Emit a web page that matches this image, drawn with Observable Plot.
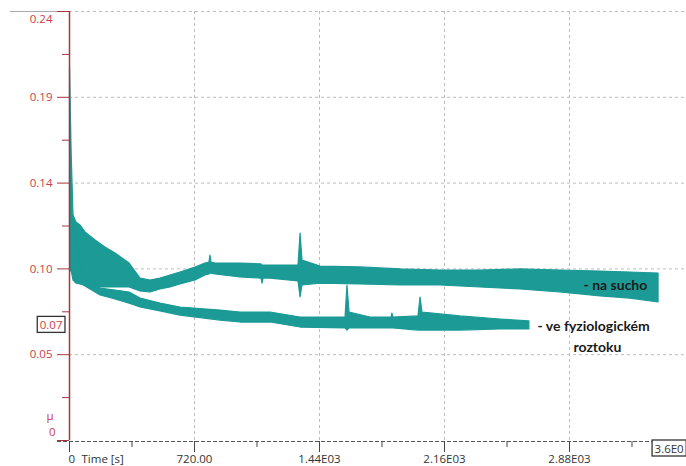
<!DOCTYPE html>
<html><head><meta charset="utf-8">
<script src="https://cdn.jsdelivr.net/npm/d3@7"></script>
<script src="https://cdn.jsdelivr.net/npm/@observablehq/plot@0.6"></script>
<style>body{margin:0;background:#fff;} svg{display:block}</style>
</head><body><div id="chart"></div>
<script>
// Series 1: "na sucho" (dry) — band of the noisy friction trace
const timeDry = [3, 12, 23, 40, 63, 92, 150, 207, 265, 346, 409, 467, 524, 582, 639, 726, 783, 806, 812, 818, 841, 985, 1106, 1112, 1118, 1158, 1319, 1331, 1342, 1446, 1676, 1907, 2137, 2367, 2598, 2828, 3059, 3231, 3393];
const dryHigh = [0.2087, 0.1622, 0.1259, 0.1220, 0.1203, 0.1164, 0.1119, 0.1080, 0.1046, 0.0990, 0.0906, 0.0895, 0.0906, 0.0923, 0.0940, 0.0968, 0.0990, 0.0996, 0.1035, 0.0996, 0.0990, 0.0990, 0.0985, 0.0979, 0.0979, 0.0979, 0.0979, 0.1158, 0.1007, 0.0973, 0.0968, 0.0957, 0.0951, 0.0951, 0.0957, 0.0951, 0.0945, 0.0940, 0.0934];
const dryLow = [0.1175, 0.0951, 0.0895, 0.0878, 0.0873, 0.0867, 0.0856, 0.0856, 0.0856, 0.0856, 0.0834, 0.0828, 0.0845, 0.0856, 0.0873, 0.0895, 0.0923, 0.0929, 0.0934, 0.0934, 0.0929, 0.0912, 0.0906, 0.0878, 0.0906, 0.0906, 0.0890, 0.0800, 0.0867, 0.0878, 0.0873, 0.0867, 0.0867, 0.0856, 0.0845, 0.0828, 0.0806, 0.0794, 0.0772];

// Series 2: "ve fyziologickém roztoku" (in saline)
const timeWet = [6, 63, 179, 265, 346, 409, 524, 639, 870, 985, 1158, 1331, 1590, 1601, 1613, 1734, 1855, 1860, 1866, 2010, 2022, 2033, 2252, 2482, 2649];
const wetHigh = [0.1343, 0.0951, 0.0850, 0.0839, 0.0828, 0.0794, 0.0766, 0.0744, 0.0727, 0.0716, 0.0716, 0.0688, 0.0688, 0.0867, 0.0716, 0.0688, 0.0688, 0.0710, 0.0688, 0.0694, 0.0800, 0.0716, 0.0694, 0.0677, 0.0666];
const wetLow = [0.0951, 0.0878, 0.0811, 0.0789, 0.0766, 0.0744, 0.0722, 0.0699, 0.0671, 0.0660, 0.0660, 0.0632, 0.0627, 0.0615, 0.0627, 0.0627, 0.0627, 0.0627, 0.0627, 0.0615, 0.0615, 0.0615, 0.0615, 0.0621, 0.0621];

// Axes
const yTickValues = [0, 0.048, 0.096, 0.144, 0.192, 0.24];
const yTickLabels = ["0", "0.05", "0.10", "0.14", "0.19", "0.24"];
const yMinorTicks = [0.024, 0.072, 0.12, 0.168, 0.216];
const xTickValues = [0, 720, 1440, 2160, 2880];
const xTickLabels = ["0", "720.00", "1.44E03", "2.16E03", "2.88E03"];
const xMinorTicks = [360, 1080, 1800, 2520, 3240];
const xAxisTitle = "Time [s]";
const yAxisTitle = "μ";

// Annotations (cursor read-outs and series labels)
const cursorYValue = 0.0645, cursorYLabel = "0.07";
const cursorXValue = 3370, cursorXLabel = "3.6E0";
const seriesLabelTexts = ["- na sucho", "- ve fyziologickém", "roztoku"];
const seriesLabelTimes = [2961, 2696, 3041];
const seriesLabelValues = [0.0867, 0.0636, 0.052];

const dry = timeDry.map((t, i) => ({t, lo: dryLow[i], hi: dryHigh[i]}));
const wet = timeWet.map((t, i) => ({t, lo: wetLow[i], hi: wetHigh[i]}));
const yLab = yTickValues.map((v, i) => ({v, label: yTickLabels[i]}));
const xLab = xTickValues.map((v, i) => ({v, label: xTickLabels[i]}));
const sLab = seriesLabelTexts.map((s, i) => ({s, t: seriesLabelTimes[i], v: seriesLabelValues[i]}));

const TEAL = "#1b9a96", RED = "#c8404a", AXISRED = "#a9343c", GRID = "#bdbdbd", DARK = "#333";
const FONT = "'Open Sans', 'Noto Sans', sans-serif";
const FS = 11.5;

const chart = Plot.plot({
  width: 686, height: 466,
  marginLeft: 69, marginRight: 0, marginTop: 11, marginBottom: 26,
  x: {domain: [0, 3554], axis: null},
  y: {domain: [0, 0.24], axis: null},
  style: {fontFamily: FONT, background: "#fff", overflow: "visible"},
  marks: [
    Plot.gridY(yTickValues.slice(1), {stroke: GRID, strokeOpacity: 1, strokeDasharray: "3,3"}),
    Plot.gridX(xTickValues.slice(1), {stroke: GRID, strokeOpacity: 1, strokeDasharray: "3,3"}),
    Plot.ruleY([0.24], {x1: -340, x2: 0, stroke: "#aaa"}),
    Plot.areaY(dry, {x: "t", y1: "lo", y2: "hi", fill: TEAL, stroke: TEAL, strokeWidth: 1.2}),
    Plot.areaY(wet, {x: "t", y1: "lo", y2: "hi", fill: TEAL, stroke: TEAL, strokeWidth: 1.2}),
    // x axis
    Plot.ruleY([0], {x1: -69, x2: 3554, stroke: "#555", strokeDasharray: "4,2", dy: 1}),
    Plot.axisX(xTickValues, {tickSize: 11, tickFormat: () => "", stroke: "#444", label: null, dy: 1}),
    Plot.axisX(xMinorTicks, {tickSize: 6, tickFormat: () => "", stroke: "#444", label: null, dy: 1}),
    Plot.text(xLab.slice(1), {x: "v", text: "label", frameAnchor: "bottom", lineAnchor: "bottom", dy: 22, fill: DARK, fontSize: FS}),
    Plot.text(xLab.slice(0, 1), {x: "v", text: "label", frameAnchor: "bottom", lineAnchor: "bottom", textAnchor: "start", dx: -1, dy: 22, fill: DARK, fontSize: FS}),
    Plot.text([xAxisTitle], {x: () => 0, text: d => d, frameAnchor: "bottom", lineAnchor: "bottom", textAnchor: "start", dx: 12, dy: 22, fill: DARK, fontSize: FS}),
    // y axis
    Plot.ruleX([0], {y1: 0, y2: 0.24, stroke: AXISRED, strokeWidth: 1.5}),
    Plot.axisY(yTickValues, {tickSize: 12, tickFormat: () => "", stroke: AXISRED, label: null}),
    Plot.axisY(yMinorTicks, {tickSize: 7, tickFormat: () => "", stroke: AXISRED, label: null}),
    Plot.text(yLab.slice(1, 5), {y: "v", text: "label", frameAnchor: "left", textAnchor: "end", dx: -17, fill: RED, fontSize: FS}),
    Plot.text(yLab.slice(5), {y: "v", text: "label", frameAnchor: "left", textAnchor: "end", dx: -17, dy: 8, fill: RED, fontSize: FS}),
    Plot.text(yLab.slice(0, 1), {y: "v", text: "label", frameAnchor: "left", textAnchor: "end", dx: -14, dy: -8, fill: RED, fontSize: FS}),
    Plot.text([yAxisTitle], {y: () => 0, text: d => d, frameAnchor: "left", textAnchor: "end", dx: -16, dy: -24, fill: RED, fontSize: FS}),
    // cursor read-outs
    Plot.text([cursorYLabel], {y: () => cursorYValue, text: d => d, frameAnchor: "left", textAnchor: "end", dx: -7, fill: RED, fontSize: FS}),
    Plot.text([cursorXLabel], {x: () => cursorXValue, text: d => d, frameAnchor: "bottom", textAnchor: "start", dy: 12, fill: DARK, fontSize: FS}),
    // series labels
    Plot.text(sLab.slice(0, 2), {x: "t", y: "v", text: "s", textAnchor: "start", fontFamily: "Lato, sans-serif", fontWeight: "bold", fontSize: 14, fill: "#1a1a1a"}),
    Plot.text(sLab.slice(2), {x: "t", y: "v", text: "s", textAnchor: "middle", fontFamily: "Lato, sans-serif", fontWeight: "bold", fontSize: 14, fill: "#1a1a1a"})
  ]
});
document.getElementById("chart").append(chart);
d3.select(chart).selectAll("text").each(function() {
  const t = this.textContent;
  if (t === cursorYLabel || t === cursorXLabel) {
    const b = this.getBBox();
    const r = document.createElementNS("http://www.w3.org/2000/svg", "rect");
    r.setAttribute("x", b.x - 2.5); r.setAttribute("y", b.y - 0.5);
    r.setAttribute("width", b.width + 5); r.setAttribute("height", b.height + 1);
    r.setAttribute("fill", "#fff"); r.setAttribute("stroke", "#333"); r.setAttribute("stroke-width", 1.3);
    const tr = this.getAttribute("transform");
    if (tr) r.setAttribute("transform", tr);
    this.parentNode.insertBefore(r, this);
  }
});
</script></body></html>
